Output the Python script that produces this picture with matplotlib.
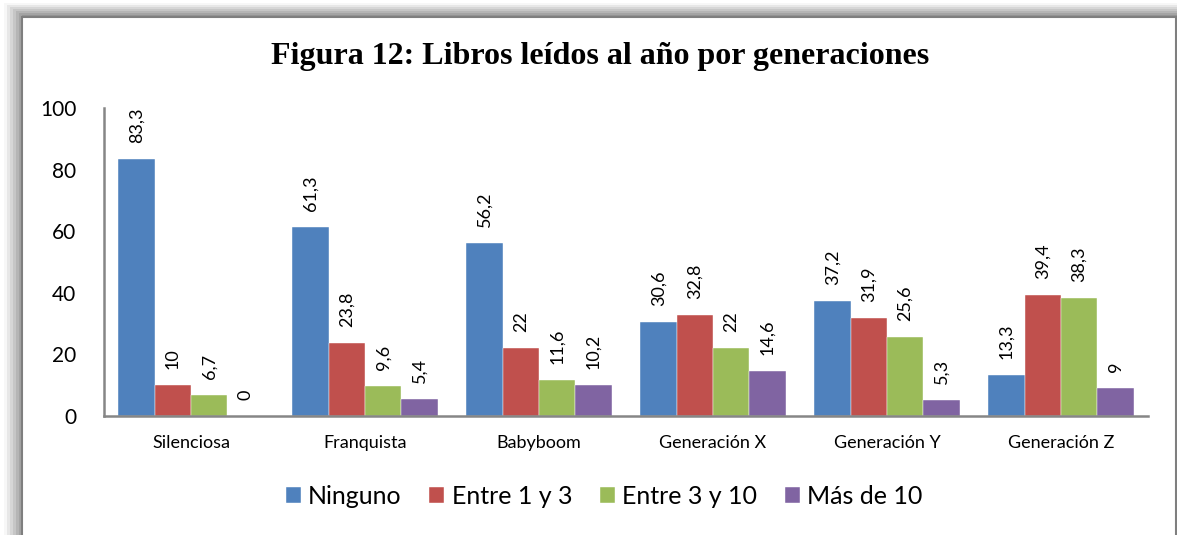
import numpy as np
import matplotlib.pyplot as plt
from matplotlib.patches import Rectangle

# data
generaciones = ['Silenciosa', 'Franquista', 'Babyboom', 'Generación X', 'Generación Y', 'Generación Z']
series = ['Ninguno', 'Entre 1 y 3', 'Entre 3 y 10', 'Más de 10']
ninguno = [83.3, 61.3, 56.2, 30.6, 37.2, 13.3]
entre_1_3 = [10, 23.8, 22, 32.8, 31.9, 39.4]
entre_3_10 = [6.7, 9.6, 11.6, 22, 25.6, 38.3]
mas_10 = [0, 5.4, 10.2, 14.6, 5.3, 9]
colores = ['#4F81BD', '#C0504D', '#9BBB59', '#8064A2']

W, H = 1177, 535
fig = plt.figure(figsize=(W / 100, H / 100), dpi=100, facecolor='white')

def px(x, y):
    return x / W, 1 - y / H

# shadowed frame around the chart
grises = np.linspace(0.97, 0.58, 7)
for i, g in enumerate(grises):
    x0, y0 = 4 + 3 * i, 3 + 2 * i
    fx, fy = px(x0, y0)
    fig.patches.append(Rectangle((fx, 0), 1 - fx, fy, transform=fig.transFigure,
                                 facecolor=str(g), edgecolor='none', zorder=0))
fx, fy = px(22, 17)
fx2, _ = px(1176, 0)
fig.patches.append(Rectangle((fx, -0.01), fx2 - fx, fy + 0.01, transform=fig.transFigure,
                             facecolor='white', edgecolor='#7f7f7f', linewidth=1.5, zorder=1))

fuente = ['Lato', 'DejaVu Sans']
ax = fig.add_axes([104 / W, 1 - 416 / H, (1148 - 104) / W, (416 - 108) / H])
ax.set_facecolor('none')
ax.set_zorder(5)

x = np.arange(len(generaciones))
ancho = 0.209
datos = [ninguno, entre_1_3, entre_3_10, mas_10]
for k, (nombre, vals, c) in enumerate(zip(series, datos, colores)):
    pos = x + (k - 1.5) * ancho
    ax.bar(pos, vals, width=ancho, color=c, label=nombre, edgecolor='white', linewidth=0.3)
    for xp, v in zip(pos, vals):
        txt = ('%g' % v).replace('.', ',')
        ax.annotate(txt, (xp, v), xytext=(0, 11.5), textcoords='offset points',
                    rotation=90, ha='center', va='bottom', fontsize=13, family=fuente)

ax.set_xlim(-0.5, len(generaciones) - 0.5)
ax.set_ylim(0, 100)
ax.set_yticks(range(0, 101, 20))
ax.set_xticks(x)
ax.set_xticklabels(generaciones, fontsize=13, family=fuente)
for lbl in ax.get_yticklabels():
    lbl.set_fontsize(15)
    lbl.set_family(fuente)
ax.tick_params(axis='y', length=0, pad=20)
ax.tick_params(axis='x', length=0, pad=14)
for s in ['top', 'right']:
    ax.spines[s].set_visible(False)
for s in ['left', 'bottom']:
    ax.spines[s].set_color('#868686')
    ax.spines[s].set_linewidth(1.8)

tx, ty = px(600, 57)
fig.text(tx, ty, 'Figura 12: Libros leídos al año por generaciones', ha='center', va='center',
         fontsize=23, fontweight='bold', family=['Liberation Serif', 'DejaVu Serif'], zorder=6)

lx, ly = px(604, 496)
fig.legend(loc='center', bbox_to_anchor=(lx, ly), ncol=4, frameon=False,
           prop={'family': fuente, 'size': 18}, handlelength=0.6, handleheight=0.6,
           handletextpad=0.3, columnspacing=1.1).set_zorder(6)

fig.savefig('out.png', dpi=100)
